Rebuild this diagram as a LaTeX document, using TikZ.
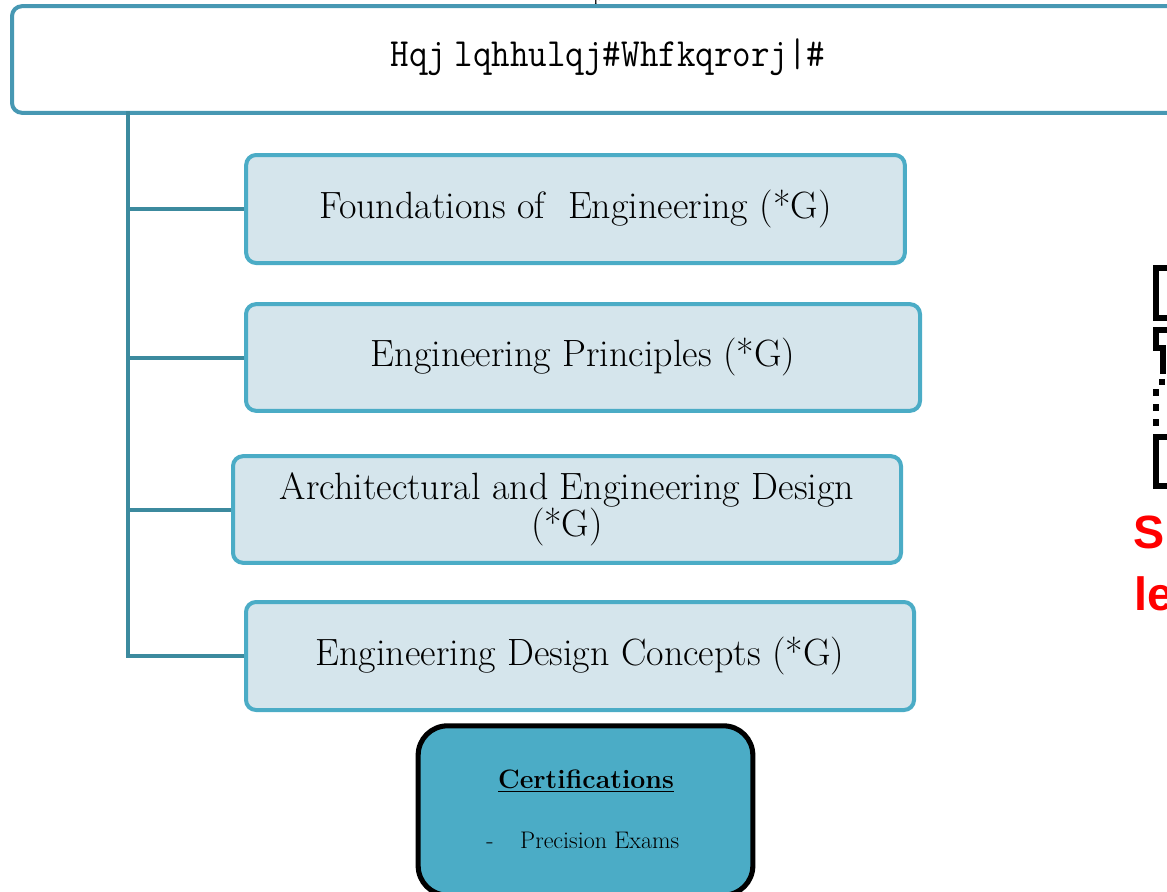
\documentclass[tikz,border=0pt]{standalone}
\usepackage{fontspec}
\newfontfamily\arialfont{Liberation Sans}
\usetikzlibrary{calc}
\definecolor{titleborder}{HTML}{4798B3}
\definecolor{trunkcol}{HTML}{3C8A9E}
\definecolor{boxborder}{HTML}{4BACC6}
\definecolor{boxfill}{HTML}{D5E5EC}
\definecolor{certfill}{HTML}{4BACC6}
\definecolor{redtxt}{HTML}{FF0000}
\tikzset{
  titlebox/.style={draw=titleborder, line width=3pt, fill=white, rounded corners=7.5pt, inner sep=0pt},
  topicbox/.style={draw=boxborder, line width=3pt, fill=boxfill, rounded corners=7.5pt, inner sep=0pt, align=center,
    font=\fontsize{28.5}{30}\selectfont},
  certbox/.style={draw=black, line width=3.8pt, fill=certfill, rounded corners=22pt, inner sep=0pt},
  trunk/.style={draw=trunkcol, line width=3pt},
  branch/.style={draw=trunkcol, line width=3pt},
  blackbar/.style={draw=black, line width=4pt},
  redlabel/.style={text=redtxt, font=\arialfont\bfseries\fontsize{35}{38}\selectfont, inner sep=0pt}
}
\begin{document}
\begin{tikzpicture}[x=0.75pt,y=-0.75pt]
\useasboundingbox (0,0) rectangle (1167,892);
% cut-off text above the title box
\node[anchor=base, inner sep=0pt, font=\fontsize{18}{20}\selectfont] (toptxt) at (599,1) {p};
% title box
\node[titlebox, minimum width=894pt, minimum height=80pt] (title) at (608,59.5) {};
\node[inner sep=0pt, font=\ttfamily\fontsize{30}{32}\selectfont] (titletxt) at (608,57) {\scalebox{0.9}[1]{Hqj\hspace{7pt}lqhhulqj\#Whfkqrorj|\#}};
% topic boxes
\node[topicbox, minimum width=494pt, minimum height=81pt] (b1) at (575.5,209) {Foundations of\ \ Engineering (*G)};
\node[topicbox, minimum width=505.5pt, minimum height=80pt] (b2) at (583,357.5) {Engineering Principles (*G)};
\node[topicbox, minimum width=501pt, minimum height=80pt] (b3) at (567,509.5) {Architectural and Engineering Design\\[-2pt](*G)};
\node[topicbox, minimum width=501pt, minimum height=81pt] (b4) at (580,656) {Engineering Design Concepts (*G)};
% trunk and branches
\coordinate (t0) at (128,113);
\coordinate (t1) at (128,656);
\draw[trunk, line cap=rect] (t0) -- (t1);
\draw[branch] (b1.west -| t0) -- (b1.west);
\draw[branch] (b2.west -| t0) -- (b2.west);
\draw[branch] (b3.west -| t0) -- (b3.west);
\draw[branch] (t1) -- (b4.west);
% certifications box
\node[certbox, minimum width=251pt, minimum height=127pt] (cert) at (585.5,810.5) {};
\node[inner sep=0pt, font=\bfseries\fontsize{20}{22}\selectfont] (certtitle) at (586,781) {\underline{Certifications}};
\node[inner sep=0pt, font=\fontsize{18}{20}\selectfont, anchor=base west] (certitem) at (486,848) {-\hspace{20pt}Precision Exams};
% cut-off items at the right edge
\draw[blackbar] (1175,268) -- (1156,268) -- (1156,318) -- (1175,318);
\draw[blackbar] (1175,330) -- (1156,330) -- (1156,348) -- (1163,348) -- (1163,374);
\fill (1159,379) rectangle (1165,385);
\fill (1153,389) rectangle (1159,396);
\fill (1153,404) rectangle (1159,411);
\fill (1153,419) rectangle (1159,426);
\draw[blackbar] (1175,437) -- (1156,437) -- (1156,486) -- (1175,486);
\node[redlabel, anchor=base west] (redS) at (1133,548) {S};
\node[redlabel, anchor=base west] (redle) at (1134,610) {le};
\end{tikzpicture}
\end{document}
